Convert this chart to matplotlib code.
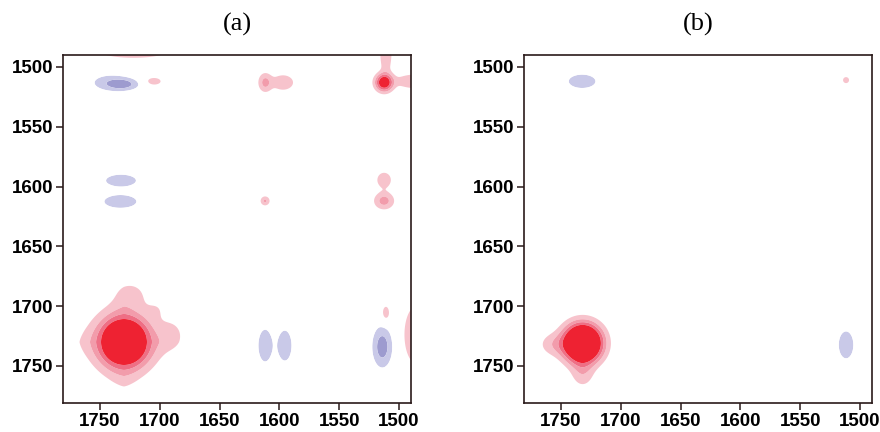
import numpy as np
import matplotlib
matplotlib.use("Agg")
import matplotlib.pyplot as plt

# 2D correlation maps, each built from a small list of peaks:
# centre x, centre y, width x, width y, amplitude (negative = blue)
peaks_a_x = [1730, 1724, 1690, 1702, 1742, 1731, 1705, 1612, 1597, 1512.5, 1511, 1485,
             1722, 1485, 1512.5, 1512.5, 1612, 1732.5, 1733, 1612, 1595.5, 1514, 1511]
peaks_a_y = [1730, 1690, 1724, 1702, 1513, 1514.5, 1512, 1513, 1513, 1513, 1488, 1512,
             1485, 1724, 1594.5, 1612, 1612, 1595, 1612.5, 1733, 1733, 1734, 1706]
peaks_a_wx = [9.5, 12, 10, 10, 16, 12, 8.8, 5.3, 10, 6.4, 5, 18,
              30, 10, 7.5, 7.7, 3.7, 15, 15.4, 6.7, 6.7, 7.5, 4.4]
peaks_a_wy = [9.5, 10, 12, 10, 7, 4.5, 4.4, 7.3, 7.2, 6.4, 18, 6,
              7, 23, 8, 6.5, 3.7, 5.9, 6.1, 15.9, 15, 15.5, 8.8]
peaks_a_amp = [1.0, 0.045, 0.045, 0.025, -0.07, -0.12, 0.06, 0.12, 0.08, 0.4, 0.095, 0.1,
               0.12, 0.12, 0.07, 0.13, 0.11, -0.08, -0.085, -0.08, -0.08, -0.14, 0.06]
# first peak of (a): round sech core fading into a diamond-ish outline
peaks_a_kind = ["sech"] + ["gauss"] * 22

peaks_b_x = [1732, 1755, 1732, 1732.4, 1511.7, 1511.7]
peaks_b_y = [1731, 1732, 1755, 1512, 1732.4, 1511]
peaks_b_wx = [13.2, 12, 9, 13.4, 7.3, 5.3]
peaks_b_wy = [13.2, 9, 12, 6.7, 13.5, 5.3]
peaks_b_amp = [1.0, 0.08, 0.08, -0.08, -0.08, 0.05]
peaks_b_kind = ["gauss"] * 6

levels = [-5, -0.1, -0.04, 0.04, 0.1, 0.17, 0.26, 5]
colors = ["#9d9bcf", "#c9c9e8", "white", "#f7c3cc", "#f29cab", "#ee6f85", "#ee2232"]
ticks = [1750, 1700, 1650, 1600, 1550, 1500]
lim = (1781, 1490)


def build_map(xs, ys, wxs, wys, amps, kinds, X, Y):
    Z = np.zeros_like(X)
    for x0, y0, wx, wy, a, k in zip(xs, ys, wxs, wys, amps, kinds):
        dx = np.abs(X - x0) / wx
        dy = np.abs(Y - y0) / wy
        if k == "sech":
            r2 = np.sqrt(dx ** 2 + dy ** 2)
            rp = (dx ** 1.4 + dy ** 1.4) ** (1 / 1.4)
            t = np.clip((r2 - 2.0) / 1.5, 0, 1)
            Z += a / np.cosh(r2 + (rp - r2) * t)
        else:
            Z += a * np.exp(-(dx ** 2 + dy ** 2))
    return Z


grid = np.linspace(1480, 1790, 621)
X, Y = np.meshgrid(grid, grid)
maps = [
    build_map(peaks_a_x, peaks_a_y, peaks_a_wx, peaks_a_wy, peaks_a_amp, peaks_a_kind, X, Y),
    build_map(peaks_b_x, peaks_b_y, peaks_b_wx, peaks_b_wy, peaks_b_amp, peaks_b_kind, X, Y),
]

fig = plt.figure(figsize=(8.8, 4.32), dpi=100)
lefts = [63 / 880, 524 / 880]
titles = ["(a)", "(b)"]

for left, Z, title in zip(lefts, maps, titles):
    ax = fig.add_axes([left, 29 / 432, 348 / 880, 348 / 432])
    ax.contourf(X, Y, Z, levels=levels, colors=colors, antialiased=True)
    ax.set_xlim(*lim)
    ax.set_ylim(*lim)
    ax.set_xticks(ticks)
    ax.set_yticks(ticks)
    ax.tick_params(direction="out", length=5, width=1.1, color="#2a1a1a", pad=2)
    for lab in ax.get_xticklabels() + ax.get_yticklabels():
        lab.set_fontfamily("Liberation Sans")
        lab.set_fontweight("bold")
        lab.set_fontsize(13.5)
    for sp in ax.spines.values():
        sp.set_color("#2a1a1a")
        sp.set_linewidth(1.2)
    fig.text(left + 174 / 880, 1 - 24 / 432, title, ha="center", va="center",
             fontsize=19, family="Liberation Serif")

fig.savefig("out.png", dpi=100)
